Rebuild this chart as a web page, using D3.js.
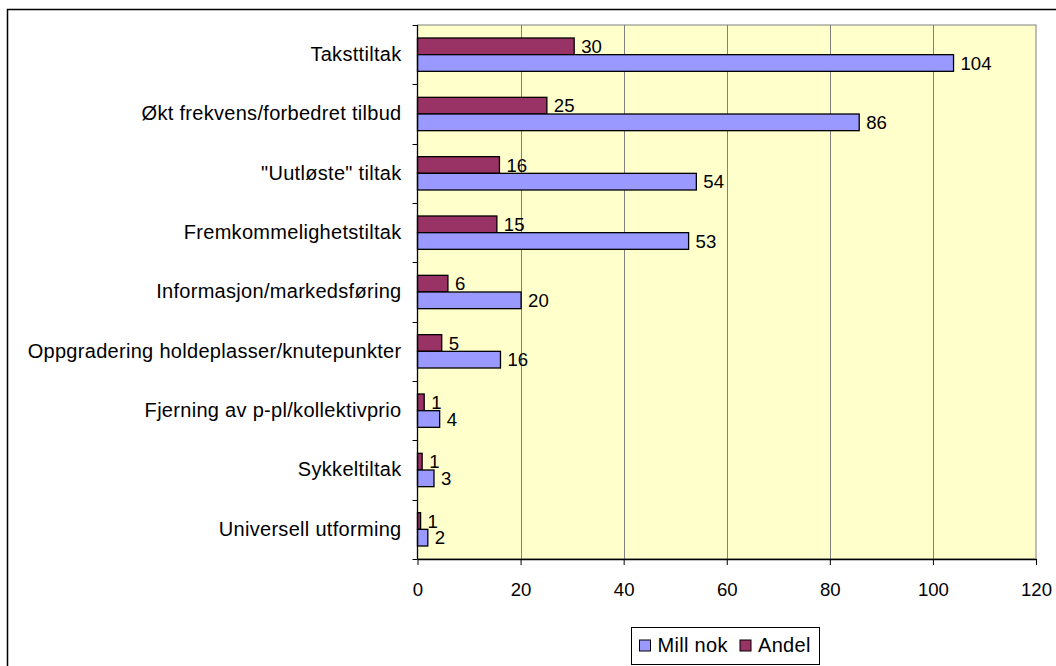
<!DOCTYPE html>
<html>
<head>
<meta charset="utf-8">
<script src="https://cdn.jsdelivr.net/npm/d3@7.9.0/dist/d3.min.js"></script>
<style>
  body { margin: 0; background: #fff; }
  svg { display: block; font-family: "Liberation Sans", Arial, sans-serif; }
  text { fill: #000; }
</style>
</head>
<body>
<div id="chart"></div>
<script>
// categories top to bottom
const categories = [
  'Taksttiltak',
  'Økt frekvens/forbedret tilbud',
  '"Uutløste" tiltak',
  'Fremkommelighetstiltak',
  'Informasjon/markedsføring',
  'Oppgradering holdeplasser/knutepunkter',
  'Fjerning av p-pl/kollektivprio',
  'Sykkeltiltak',
  'Universell utforming'
];
const millNok = [104, 85.7, 54.1, 52.6, 20.1, 16.1, 4.3, 3.2, 2.0];
const andel = [30.4, 25.1, 15.9, 15.4, 5.9, 4.7, 1.3, 0.9, 0.6];
const xTicks = [0, 20, 40, 60, 80, 100, 120];

const series = [
  { key: 'Andel', values: andel, color: '#993366' },
  { key: 'Mill nok', values: millNok, color: '#9999FF' }
];
const legendOrder = ['Mill nok', 'Andel'];

const width = 1056, height = 666;
const plot = { left: 417.5, right: 1036, top: 25, bottom: 559 };
const labelFont = '20px', labelSpacing = '0.3px';
const numFont = '18.6px';

const svg = d3.select('#chart').append('svg')
  .attr('width', width).attr('height', height);

// outer chart frame (runs off the right and bottom edges)
svg.append('rect')
  .attr('x', 7.5).attr('y', 9.5)
  .attr('width', 1100).attr('height', 700)
  .attr('fill', '#fff').attr('stroke', '#000').attr('stroke-width', 1.5);

const x = d3.scaleLinear().domain([0, 120]).range([plot.left, plot.right]);
const y = d3.scaleBand().domain(categories).range([plot.top, plot.bottom]);
const inner = d3.scaleBand().domain(series.map(s => s.key))
  .range([0, y.bandwidth()]).paddingInner(0).paddingOuter(0.78);

// plot background
svg.append('rect')
  .attr('x', plot.left).attr('y', plot.top)
  .attr('width', plot.right - plot.left).attr('height', plot.bottom - plot.top)
  .attr('fill', '#FFFFCC').attr('stroke', '#808080').attr('stroke-width', 1);

// gridlines
svg.append('g')
  .selectAll('line')
  .data(xTicks.filter(d => d > 0 && d < 120))
  .join('line')
  .attr('x1', d => Math.round(x(d)) + 0.5).attr('x2', d => Math.round(x(d)) + 0.5)
  .attr('y1', plot.top).attr('y2', plot.bottom)
  .attr('stroke', '#808080');

// bars
const rows = categories.map((c, i) => ({ cat: c, i }));
const groups = svg.append('g').selectAll('g')
  .data(rows)
  .join('g')
  .attr('transform', d => `translate(0,${y(d.cat)})`);

series.forEach(s => {
  groups.append('rect')
    .attr('x', x(0))
    .attr('y', inner(s.key))
    .attr('width', d => x(s.values[d.i]) - x(0))
    .attr('height', inner.bandwidth())
    .attr('fill', s.color)
    .attr('stroke', '#000')
    .attr('stroke-width', 1.3);

  groups.append('text')
    .attr('x', d => x(s.values[d.i]) + 7)
    .attr('y', inner(s.key) + inner.bandwidth() / 2)
    .attr('dy', '0.36em')
    .style('font-size', numFont)
    .text(d => d3.format('.0f')(s.values[d.i]));
});

// x axis
const xAxis = svg.append('g')
  .attr('transform', `translate(0,${plot.bottom})`)
  .call(d3.axisBottom(x).tickValues(xTicks).tickSize(6).tickSizeOuter(0).tickPadding(18));
xAxis.select('.domain').attr('stroke', '#000').attr('stroke-width', 1.3);
xAxis.selectAll('.tick line').attr('stroke', '#000');
xAxis.selectAll('text')
  .style('font-size', numFont)
  .attr('font-family', null).attr('fill', '#000');

// y axis: labels at band centres, ticks at band boundaries
const yAxis = svg.append('g')
  .attr('transform', `translate(${plot.left},0)`)
  .call(d3.axisLeft(y).tickSize(0).tickPadding(16));
yAxis.select('.domain').remove();
yAxis.selectAll('text')
  .style('font-size', labelFont).style('letter-spacing', labelSpacing)
  .attr('font-family', null).attr('fill', '#000');

const bounds = categories.map(c => y(c)).concat([y.range()[1]]);
svg.append('g').selectAll('line')
  .data(bounds)
  .join('line')
  .attr('x1', plot.left - 5).attr('x2', plot.left)
  .attr('y1', d => Math.round(d) + 0.5).attr('y2', d => Math.round(d) + 0.5)
  .attr('stroke', '#000');
svg.append('line')
  .attr('x1', plot.left).attr('x2', plot.left)
  .attr('y1', plot.top).attr('y2', plot.bottom)
  .attr('stroke', '#000').attr('stroke-width', 1.3);

// legend
const legend = svg.append('g').attr('transform', 'translate(631.5,627.5)');
legend.append('rect')
  .attr('width', 188).attr('height', 37)
  .attr('fill', '#fff').attr('stroke', '#000');
const itemX = [8, 108.5];
legendOrder.forEach((k, i) => {
  const s = series.find(d => d.key === k);
  legend.append('rect')
    .attr('x', itemX[i]).attr('y', 12.5)
    .attr('width', 11).attr('height', 11)
    .attr('fill', s.color).attr('stroke', '#000');
  legend.append('text')
    .attr('x', itemX[i] + 18).attr('y', 24)
    .style('font-size', labelFont).style('letter-spacing', labelSpacing)
    .text(k);
});
</script>
</body>
</html>
